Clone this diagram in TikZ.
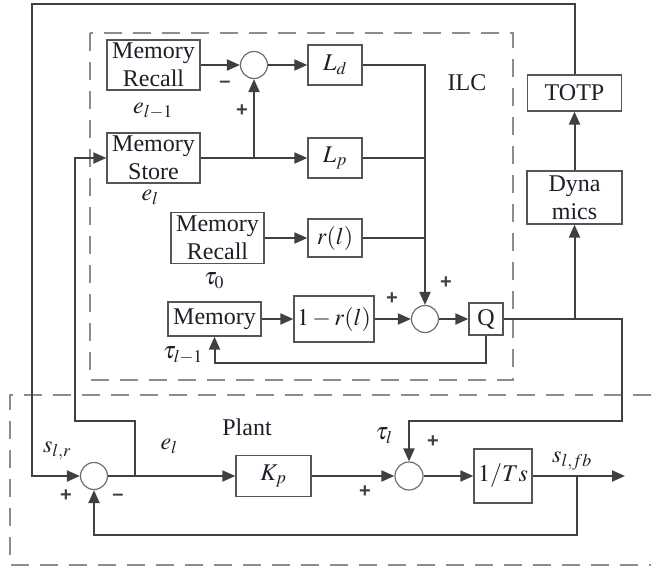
\documentclass[tikz,border=0pt]{standalone}
\usepackage{mathptmx}
\usepackage{fontspec}
\setmainfont{Liberation Serif}
\newfontfamily\signfont{Liberation Sans}
\usetikzlibrary{arrows.meta}
\definecolor{ln}{HTML}{404040}
\definecolor{bx}{HTML}{555555}
\definecolor{tx}{HTML}{1E1E28}
\begin{document}
\begin{tikzpicture}[x=1pt,y=-1pt,
  every node/.style={font=\fontsize{24}{28}\selectfont, text=tx},
  blk/.style={draw=bx, line width=1.3pt, inner sep=0pt, align=center},
  sumj/.style={circle, draw=bx!85, line width=1.2pt, minimum size=27pt, inner sep=0pt},
  conn/.style={draw=ln, line width=2pt},
  arr/.style={conn, -{Triangle[length=13pt,width=11pt]}},
  dbox/.style={draw=gray!90, line width=1.5pt, dash pattern=on 18pt off 11pt},
  sgn/.style={font=\signfont\bfseries\fontsize{20}{20}\selectfont, text=ln, inner sep=0pt},
  lbl/.style={inner sep=0pt}]
\useasboundingbox (0,0) rectangle (651,571);

% dashed frames
\draw[dbox] (90,33) rectangle (513,380);
\draw[dbox] (651,395) -- (10,395) -- (10,565) -- (651,565);

% ILC blocks
\node[blk, minimum width=93pt, minimum height=50pt] (mr1) at (153.5,65) {Memory\\Recall};
\node[blk, minimum width=93pt, minimum height=50pt] (ms) at (153.5,158) {Memory\\Store};
\node[blk, minimum width=93pt, minimum height=51pt] (mr2) at (217.5,238) {Memory\\Recall};
\node[blk, minimum width=93pt, minimum height=34pt] (mem) at (214.5,319) {Memory};
\node[blk, minimum width=54pt, minimum height=40pt] (ld) at (335,65) {$L_d$};
\node[blk, minimum width=54pt, minimum height=40pt] (lp) at (335,158) {$L_p$};
\node[blk, minimum width=54pt, minimum height=38pt] (rl) at (335,238) {$r(l)$};
\node[blk, minimum width=80pt, minimum height=46pt] (omr) at (334,319) {$1-r(l)$};
\node[blk, minimum width=34pt, minimum height=32pt] (q) at (486,319) {Q};
\node[sumj] (s1) at (254,65) {};
\node[sumj] (s2) at (425,319) {};

% right column
\node[blk, minimum width=95pt, minimum height=53pt] (dyn) at (574.5,197.5) {Dyna\\mics};
\node[blk, minimum width=94pt, minimum height=36pt] (totp) at (574.5,93) {TOTP};

% plant
\node[sumj] (s3) at (94,476) {};
\node[sumj, minimum size=28pt] (s4) at (409,476) {};
\node[blk, minimum width=75pt, minimum height=41pt] (kp) at (273.5,476) {$K_p$};
\node[blk, minimum width=58pt, minimum height=54pt] (ts) at (503,476) {$1/Ts$};

% coordinates
\coordinate (b1) at (254,158);
\coordinate (qr) at (622,319);
\coordinate (qd) at (622,421);
\coordinate (bd) at (574.5,319);
\coordinate (tp1) at (574.5,4);
\coordinate (tp2) at (32,4);
\coordinate (tp3) at (32,476);
\coordinate (ej) at (135,476);
\coordinate (ej1) at (135,421);
\coordinate (ej2) at (75,421);
\coordinate (ej3) at (75,158);
\coordinate (out) at (625,476);
\coordinate (fb) at (577,476);
\coordinate (fb1) at (577,535);
\coordinate (qb) at (486,363);

% ILC connectors
\draw[arr] (mr1.east) -- (s1.west);
\draw[arr] (s1.east) -- (ld.west);
\draw[arr] (ms.east) -- (lp.west);
\draw[arr] (b1) -- (s1.south);
\draw[arr] (ld.east) -| (s2.north);
\draw[conn] (lp.east) -- (lp.east -| s2);
\draw[conn] (rl.east) -- (rl.east -| s2);
\draw[arr] (mr2.east) -- (rl.west);
\draw[arr] (mem.east) -- (omr.west);
\draw[arr] (omr.east) -- (s2.west);
\draw[arr] (s2.east) -- (q.west);
\draw[arr] (q.south) -- (qb) -| (mem.south);

% Q output
\draw[arr] (q.east) -- (qr) -- (qd) -| (s4.north);
\draw[arr] (bd) -- (dyn.south);
\draw[arr] (dyn.north) -- (totp.south);
\draw[arr] (totp.north) -- (tp1) -- (tp2) -- (tp3) -- (s3.west);

% plant connectors
\draw[arr] (ej) -- (ej1) -- (ej2) -- (ej3) -- (ms.west);
\draw[arr] (s3.east) -- (kp.west);
\draw[arr] (kp.east) -- (s4.west);
\draw[arr] (s4.east) -- (ts.west);
\draw[arr] (ts.east) -- (out);
\draw[arr] (fb) -- (fb1) -| (s3.south);

% labels
\node[lbl] (l1) at (153,111) {$e_{l-1}$};
\node[lbl] (l2) at (150,197) {$e_l$};
\node[sgn] (g1) at (225,84) {\textendash};
\node[sgn] (g2) at (242,111) {+};
\node (ilc) at (467,83) {ILC};
\node[lbl] (l3) at (214,281) {$\tau_0$};
\node[lbl] (l4) at (183,355) {$\tau_{l-1}$};
\node[sgn] (g3) at (392,299) {+};
\node[sgn] (g4) at (446,283) {+};
\node[lbl] (l5) at (57,451) {$s_{l,r}$};
\node[sgn] (g5) at (66,496) {+};
\node[sgn] (g6) at (118,497) {\textendash};
\node[lbl] (l6) at (169,446) {$e_l$};
\node (plant) at (247,427) {Plant};
\node[lbl] (l7) at (384,436) {$\tau_l$};
\node[sgn] (g7) at (433,442) {+};
\node[sgn] (g8) at (365,492) {+};
\node[lbl] (l8) at (572,461) {$s_{l,fb}$};
\end{tikzpicture}
\end{document}
